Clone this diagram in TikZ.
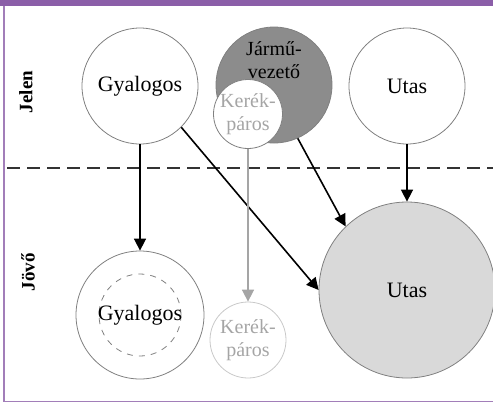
\documentclass[tikz,border=0pt]{standalone}
\usepackage{fontspec}
\setmainfont{Liberation Serif}
\usetikzlibrary{positioning,arrows.meta}
\definecolor{keret}{RGB}{139,94,168}
\definecolor{sotet}{RGB}{140,140,140}
\definecolor{vilagos}{RGB}{217,217,217}
\definecolor{halvany}{RGB}{165,165,165}

\begin{document}
\begin{tikzpicture}[x=0.5pt,y=-0.5pt,
    kor/.style={circle,draw=gray,line width=0.4pt,inner sep=0pt,align=center,
      font=\fontsize{11}{13}\selectfont},
    kicsi/.style={kor,font=\fontsize{10}{11.5}\selectfont},
    nyil/.style={-{Triangle[length=6pt,width=6pt]},line width=0.8pt},
    ido/.style={rotate=90,font=\bfseries\fontsize{9.5}{11}\selectfont}]
    \useasboundingbox (0,0) rectangle (493,403);
    % keret
    \fill[keret] (0,0) rectangle (493,6);
    \draw[keret!80,line width=0.8pt] (4,6) -- (4,401.5) -- (493,401.5);

    % jelen
    \node[kor,minimum size=58pt] (gyalJ) at (140,86) {Gyalogos};
    \node[kor,fill=sotet,minimum size=58pt] (jarmuJ) at (274,85) {};
    \node[kicsi,draw=none] (jarmuT) at (274,60) {Jármű-\\vezető};
    \node[kicsi,fill=white,text=halvany,minimum size=32pt] (kerekJ) at (248,114) {Kerék-\\páros};
    \node[kor,minimum size=58pt] (utasJ) at (407,86) {Utas};

    % jovo
    \node[kor,minimum size=64pt] (gyalV) at (140,315) {};
    \node[circle,draw=gray,dashed,line width=0.4pt,minimum size=41pt] (gyalB) at (gyalV) {};
    \node[kor,draw=none] (gyalT) at (gyalV) {Gyalogos};
    \node[kicsi,draw=halvany!60,text=halvany,minimum size=38pt] (kerekV) at (248,340) {Kerék-\\páros};
    \node[kor,fill=vilagos,minimum size=88pt] (utasV) at (407,290) {Utas};

    \node[ido] (jelen) at (26,92) {Jelen};
    \node[ido] (jovo) at (28,272) {Jövő};

    \coordinate (hatarB) at (7,168);
    \coordinate (hatarJ) at (493,168);
    \draw[black!80,line width=0.8pt,dash pattern=on 6.5pt off 3.5pt] (hatarB) -- (hatarJ);

    \draw[nyil] (gyalJ) -- (gyalV);
    \draw[nyil] (gyalJ.-45) -- (utasV.180);
    \draw[nyil] (jarmuJ.-66) -- (utasV.134);
    \draw[nyil] (utasJ) -- (utasV);
    \draw[nyil,halvany] (kerekJ) -- (kerekV);
\end{tikzpicture}
\end{document}
